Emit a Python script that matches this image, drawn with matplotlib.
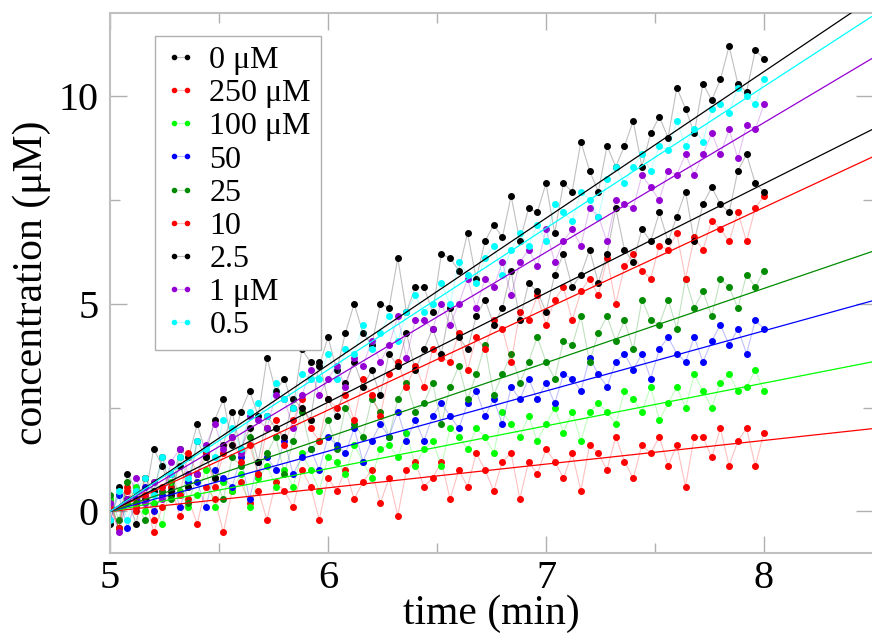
import matplotlib
matplotlib.use("Agg")
import matplotlib.pyplot as plt
from matplotlib.colors import to_rgba
import numpy as np

plt.rcParams['font.family'] = ['Liberation Serif', 'DejaVu Serif']

# sampling times (min), one reading every 0.04 min
time = 5.0 + 0.04 * np.arange(76)

conc_0 = [0.3, -0.4, 0.9, 0.5, 0.3, 1.5, 1.1, 0.4, 1.5, 1.3, 2.1, 1.4, 2.2, 2.7, 1.6, 2.4, 2.9, 2.3, 3.7, 2.9,
          3.2, 2.5, 3.9, 3.6, 3.5, 4.2, 3.4, 4.3, 5.0, 4.3, 4.0, 5.0, 4.9, 6.1, 4.8, 5.4, 5.4, 4.8, 6.2, 6.1,
          5.8, 6.7, 5.6, 6.5, 6.9, 6.6, 7.6, 6.5, 7.3, 7.2, 7.9, 6.7, 7.9, 7.7, 8.9, 8.2, 7.7, 8.8, 8.3, 8.8,
          9.4, 8.3, 9.1, 9.5, 9.0, 10.2, 9.7, 9.1, 10.3, 9.9, 10.4, 11.2, 10.3, 10.1, 11.1, 10.9]
conc_250 = [0.2, -0.4, 0.6, 0.0, 0.4, -0.5, 0.1, 0.6, -0.1, 0.3, -0.3, 0.6, 0.3, -0.5, 0.5, 0.7, 0.2, 0.5, -0.2, 0.7,
            0.5, 0.1, 1.0, 0.6, -0.2, 0.8, 0.5, 1.0, 0.3, 0.7, 1.0, 0.2, 0.8, -0.1, 1.0, 1.2, 0.6, 0.8, 1.2, 0.3,
            1.0, 0.6, 1.4, 1.0, 0.5, 1.2, 1.4, 0.3, 1.2, 0.9, 1.5, 1.2, 0.8, 1.4, 0.5, 1.6, 1.4, 1.0, 1.8, 1.2,
            0.8, 1.6, 1.4, 1.8, 1.1, 1.6, 0.6, 1.8, 1.8, 1.3, 2.0, 1.1, 1.7, 2.0, 1.1, 1.9]
conc_100 = [0.3, -0.4, 0.2, 0.6, 0.0, 0.2, -0.3, 0.7, 0.5, 0.1, 0.4, 1.0, 0.1, 0.7, 0.5, 0.9, 0.1, 0.8, 1.1, 0.6,
            1.0, 0.6, 1.4, 1.0, 0.5, 1.3, 1.2, 0.9, 1.6, 1.2, 0.8, 1.5, 1.6, 1.3, 1.9, 1.1, 1.5, 1.7, 1.1, 2.0,
            1.8, 1.5, 2.0, 1.8, 1.4, 2.4, 2.1, 1.8, 2.3, 1.7, 2.1, 2.5, 1.9, 2.4, 1.7, 2.4, 2.6, 2.4, 2.1, 2.9,
            2.7, 2.4, 3.0, 2.2, 2.6, 3.0, 2.5, 3.3, 2.9, 2.5, 3.1, 3.3, 2.9, 3.0, 3.4, 2.9]
conc_50 = [-0.2, 0.4, -0.4, 0.3, 0.6, 0.0, 0.4, 0.9, 0.1, 0.7, 0.7, 0.1, 1.0, 0.8, 0.6, 1.3, 0.3, 1.2, 1.3, 1.0,
           1.7, 0.9, 1.3, 1.5, 1.0, 1.8, 1.6, 1.4, 2.0, 1.2, 1.7, 2.1, 1.8, 2.4, 1.7, 2.2, 1.7, 2.3, 2.6, 2.3,
           2.0, 2.6, 2.9, 2.3, 2.7, 2.1, 3.0, 2.7, 3.2, 2.7, 3.1, 2.6, 3.3, 3.2, 2.9, 3.7, 3.3, 3.0, 3.6, 3.8,
           3.4, 3.8, 3.2, 3.9, 4.2, 3.8, 3.6, 4.2, 3.6, 4.1, 4.5, 4.0, 4.4, 3.8, 4.6, 4.4]
conc_25 = [0.4, -0.2, 0.7, 0.2, -0.2, 0.7, 0.5, 0.3, 1.3, 0.2, 0.9, 1.3, 0.8, 0.3, 1.3, 1.1, 1.8, 0.9, 1.4, 1.8,
           0.9, 1.7, 2.4, 1.5, 1.7, 2.2, 1.5, 2.5, 2.1, 1.8, 2.7, 2.4, 1.8, 2.7, 3.1, 2.4, 2.6, 3.1, 2.1, 3.0,
           3.5, 2.7, 3.3, 4.0, 2.8, 3.3, 3.8, 3.1, 3.6, 4.2, 3.6, 3.2, 4.1, 4.0, 4.7, 3.6, 4.3, 4.7, 4.1, 4.6,
           3.9, 5.1, 4.6, 4.5, 5.1, 4.4, 5.6, 4.9, 5.3, 4.7, 5.6, 5.4, 4.9, 5.7, 5.4, 5.8]
conc_10 = [0.1, -0.4, 0.5, 0.1, 0.8, -0.2, 0.6, 0.9, 0.4, 1.4, 0.9, 1.4, 0.6, 1.4, 1.8, 1.2, 1.6, 0.9, 2.0, 2.2,
           1.6, 2.2, 2.7, 2.0, 1.7, 2.7, 2.5, 2.8, 2.2, 3.2, 2.8, 2.3, 3.3, 3.6, 3.0, 3.5, 3.0, 3.9, 3.7, 3.6,
           4.3, 3.4, 4.2, 3.9, 4.6, 4.4, 3.6, 4.8, 4.6, 5.2, 4.5, 5.1, 5.4, 4.6, 5.3, 5.6, 5.2, 6.1, 5.0, 5.9,
           6.2, 5.8, 5.6, 6.4, 6.3, 6.7, 5.6, 6.6, 6.3, 7.0, 6.8, 6.5, 7.2, 6.5, 7.3, 7.6]
conc_2_5 = [-0.3, 0.6, 0.3, -0.3, 0.8, 0.5, 1.3, 0.5, 1.1, 0.6, 1.7, 1.3, 0.8, 1.6, 2.4, 1.5, 2.0, 1.2, 2.3, 2.0,
            1.8, 2.7, 2.5, 2.2, 3.6, 2.7, 2.3, 3.1, 3.6, 3.0, 3.4, 2.8, 3.8, 3.5, 4.3, 3.4, 3.9, 4.4, 3.8, 4.9,
            4.2, 3.9, 4.7, 5.1, 4.5, 4.9, 5.8, 4.6, 5.5, 5.3, 4.8, 5.7, 6.2, 5.4, 5.7, 6.3, 5.5, 6.2, 7.3, 6.3,
            6.0, 6.8, 6.5, 7.2, 6.5, 7.1, 7.7, 6.5, 7.4, 7.8, 7.4, 7.2, 8.2, 8.6, 7.9, 7.7]
conc_1 = [0.2, -0.5, 0.3, 0.8, 0.2, 0.7, 0.3, 1.2, 1.5, 0.9, 0.9, 1.6, 2.1, 1.5, 1.8, 1.4, 2.3, 2.2, 2.0, 2.8,
          2.7, 2.0, 2.8, 3.4, 2.8, 3.2, 3.5, 3.0, 3.7, 3.5, 4.1, 3.6, 4.0, 4.7, 3.7, 4.6, 4.6, 4.4, 5.0, 4.5,
          5.0, 5.6, 4.9, 5.6, 5.4, 6.0, 5.2, 6.0, 6.3, 5.9, 6.8, 6.0, 6.5, 6.8, 6.4, 7.3, 7.1, 6.5, 7.5, 7.4,
          7.3, 8.1, 7.8, 7.5, 8.2, 8.1, 8.6, 8.1, 8.6, 9.1, 8.6, 9.2, 8.5, 9.3, 9.2, 9.8]
conc_0_5 = [-0.2, 0.5, -0.2, 0.5, 0.8, 0.4, 1.3, 0.9, 1.3, 0.8, 1.7, 1.5, 1.3, 2.2, 2.0, 1.5, 2.4, 2.6, 2.3, 3.1,
            2.7, 2.5, 3.3, 3.2, 3.2, 3.8, 3.2, 3.9, 3.8, 4.5, 3.9, 4.3, 4.7, 4.1, 4.8, 5.2, 4.8, 5.0, 5.5, 5.0,
            6.0, 5.7, 5.5, 6.1, 6.4, 5.7, 6.3, 6.7, 6.4, 6.9, 6.5, 7.4, 7.2, 7.0, 7.7, 7.5, 7.1, 8.0, 8.3, 7.9,
            8.3, 8.6, 8.2, 8.8, 8.7, 9.4, 8.8, 9.2, 8.9, 9.7, 9.8, 9.6, 10.2, 10.0, 9.8, 10.4]

labels = ['0 μM', '250 μM', '100 μM', '50', '25', '10', '2.5', '1 μM', '0.5']
series = [conc_0, conc_250, conc_100, conc_50, conc_25, conc_10, conc_2_5, conc_1, conc_0_5]
colors = ['#000000', '#ff0000', '#00ff00', '#0000ff', '#008b00', '#ff0000', '#000000', '#9400d3', '#00ffff']
# linear fits, concentration = slope * (t - 5)
fit_slope = [3.53, 0.57, 1.03, 1.45, 1.79, 2.44, 2.63, 3.12, 3.41]

fig = plt.figure(figsize=(8.72, 6.34), dpi=100)
ax = fig.add_axes([110 / 872, 81 / 634, 763 / 872, 540 / 634])

for y, c, lab in zip(series, colors, labels):
    ax.plot(time, y, '-', color=to_rgba(c, 0.25), lw=0.8, marker='o', ms=4.0,
            mfc=c, mec=c, label=lab)

t_fit = np.array([5.0, 8.6])
for s, c in zip(fit_slope, colors):
    ax.plot(t_fit, s * (t_fit - 5.0), '-', color=c, lw=0.9, zorder=5)

ax.set_xlim(5, 8.47)
ax.set_ylim(-1, 12)
ax.set_xticks([5, 6, 7, 8])
ax.set_xticks([5.5, 6.5, 7.5, 8.5], minor=True)
ax.set_yticks([0, 5, 10])
ax.set_yticks([2.5, 7.5], minor=True)
ax.tick_params(which='both', direction='in', top=True, right=True, color='#b0b0b0',
               labelsize=29, pad=8)
ax.tick_params(axis='x', pad=5)
ax.tick_params(which='major', length=12, width=1)
ax.tick_params(which='minor', length=7, width=1)
for sp in ax.spines.values():
    sp.set_color('#c0c0c0')
    sp.set_linewidth(1.5)

ax.set_xlabel('time (min)', fontsize=30, labelpad=-2)
ax.set_ylabel('concentration (μM)', fontsize=30, labelpad=6)

leg = ax.legend(loc='upper left', bbox_to_anchor=(155 / 872, 1 - 36 / 634),
                bbox_transform=fig.transFigure, borderaxespad=0, fontsize=23,
                numpoints=2, handlelength=1.0, handletextpad=0.4, labelspacing=0.12,
                borderpad=0.3, fancybox=False, framealpha=1, edgecolor='#b0b0b0',
                markerscale=0.75)
leg.get_frame().set_linewidth(1.0)

fig.savefig('out.png', dpi=100)
